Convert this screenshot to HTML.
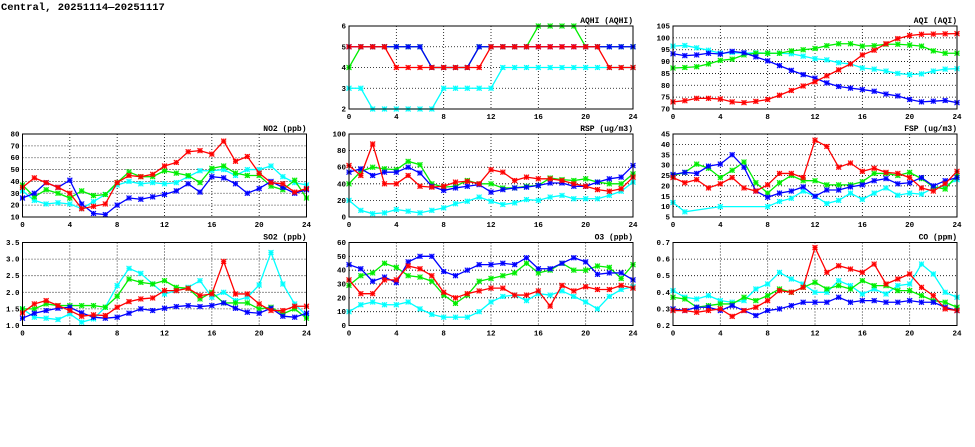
<!DOCTYPE html>
<html><head><meta charset="utf-8"><style>
body{margin:0;background:#fff;width:975px;height:447px;overflow:hidden}
svg{display:block}
text{font-family:"Liberation Mono","DejaVu Sans Mono",monospace;font-weight:bold;fill:#000}
</style></head><body>
<svg id="s" width="975" height="447" xmlns="http://www.w3.org/2000/svg">
<text x="1" y="10" style="font-size:10.5px">Central, 20251114—20251117</text>
</svg>
<script>
const C={r:'#ff0000',g:'#00ee00',b:'#0000ff',c:'#00ffff'};
const panels=[
{t:'AQHI (AQHI)',x:349,y:26,min:2,max:6,ticks:[2,3,4,5,6],dec:0,s:{
c:[3,3,2,2,2,2,2,2,3,3,3,3,3,4,4,4,4,4,4,4,4,4,4,4,4],
g:[4,5,5,5,5,5,5,4,4,4,4,5,5,5,5,5,6,6,6,6,5,5,5,5,5],
b:[5,5,5,5,5,5,5,4,4,4,4,5,5,5,5,5,5,5,5,5,5,5,5,5,5],
r:[5,5,5,5,4,4,4,4,4,4,4,4,5,5,5,5,5,5,5,5,5,5,4,4,4]}},
{t:'AQI (AQI)',x:673,y:26,min:70,max:105,ticks:[70,75,80,85,90,95,100,105],dec:0,s:{
c:[96.5,96.8,95.8,94.8,93.5,93.8,93.5,93.7,93.5,93.5,93.3,92.3,91.2,90.7,89.5,89,87.3,86.8,86,85,84.5,84.8,86,86.8,87],
g:[87.3,87.5,87.8,89,90.5,91,92.8,93.5,93.5,93.5,94.5,95,95.5,96.7,97.5,97.5,96.5,96.7,97.3,97.3,97,96.5,94.5,93.5,93.5],
b:[93.3,92.5,92.8,93.5,93.2,94.3,93.7,92,90.3,88.3,86.3,84.5,83,81,79.5,78.8,78.2,77.5,76.3,75.5,74,73,73.3,73.6,72.7],
r:[73,73.5,74.5,74.5,74.2,73,72.7,73.2,74,75.8,77.8,79.7,81.5,84,86.5,89,92.8,94.8,97.5,99.7,101,101.5,101.6,101.7,101.8]}},
{t:'NO2 (ppb)',x:22.5,y:134,min:10,max:80,ticks:[10,20,30,40,50,60,70,80],dec:0,s:{
c:[32,24,21,22,21,17,23,29,37,40,38,39,38,39,44,49,49,50,45,50,50,53,44,39,37],
g:[37,27,33,30,26,32,28,29,39,48,44,44,49,47,45,39,51,53,47,45,45,36,33,41,26],
b:[26,30,39,35,41,21,13,12,20,26,25,27,29,32,38,31,44,43,38,30,34,40,35,30,33],
r:[35,43,39,35,30,17,19,21,39,45,44,46,53,56,65,66,63,74,57,61,47,39,38,31,34]}},
{t:'RSP (ug/m3)',x:349,y:134,min:0,max:100,ticks:[0,20,40,60,80,100],dec:0,s:{
c:[20,8,4,5,9,7,5,8,11,16,19,24,19,15,17,21,20,24,26,22,22,22,26,31,42],
g:[40,55,60,58,57,67,63,40,36,37,44,40,40,35,35,37,38,47,45,44,46,42,40,40,52],
b:[54,58,50,54,54,60,53,37,32,35,37,39,30,33,35,36,38,41,41,37,37,42,46,48,62],
r:[62,50,88,40,40,50,37,36,37,42,43,40,57,54,44,48,46,46,44,40,37,33,31,34,48]}},
{t:'FSP (ug/m3)',x:673,y:134,min:5,max:45,ticks:[5,10,15,20,25,30,35,40,45],dec:0,s:{
c:[12,7.5,null,null,10,null,null,null,10,12.5,14,17.5,15,11.5,13,16.5,13.5,16.5,19,15.5,16.5,16,19,20,23],
g:[25,26.5,30.5,28.5,24,27.5,31.5,21.5,16.5,21.5,25,22.5,22.5,20.5,20.5,20.5,22,26,26,25,26.5,23.5,19.5,18.5,25],
b:[25.5,26.5,26,29.5,30.5,35,29,17.5,14.5,16.5,17.5,19.5,15,18,18,19.5,20.5,22.5,23.5,21,21.5,24,20,22.5,24],
r:[24,21.5,23,19,21,24,19,17.5,20.5,26,26,24,42,39,29,31,27,28.5,26.5,26,24,19,17.5,21,27]}},
{t:'SO2 (ppb)',x:22.5,y:242.5,min:1,max:3.5,ticks:[1,1.5,2,2.5,3,3.5],dec:1,s:{
c:[1.5,1.25,1.22,1.18,1.35,1.1,1.2,1.55,2.2,2.72,2.57,2.25,1.95,2.05,2.15,2.35,1.85,2.0,1.75,1.85,2.22,3.2,2.25,1.65,1.3],
g:[1.5,1.5,1.65,1.6,1.6,1.6,1.6,1.55,1.88,2.4,2.3,2.25,2.35,2.15,2.12,1.8,2.0,1.68,1.68,1.68,1.5,1.55,1.35,1.5,1.22],
b:[1.22,1.37,1.45,1.52,1.55,1.38,1.25,1.22,1.25,1.37,1.5,1.45,1.52,1.57,1.6,1.57,1.6,1.68,1.52,1.4,1.37,1.52,1.28,1.25,1.37],
r:[1.38,1.65,1.75,1.6,1.45,1.28,1.32,1.3,1.55,1.72,1.8,1.83,2.05,2.05,2.12,1.9,1.95,2.93,1.95,1.95,1.65,1.45,1.45,1.58,1.58]}},
{t:'O3 (ppb)',x:349,y:242.5,min:0,max:60,ticks:[0,10,20,30,40,50,60],dec:0,s:{
c:[10,15,17,15,15,17,12,8,6,6,6,10,17,21,22,18,23,22,25,21,17,12,21,26,28],
g:[29,36,38,45,42,36,35,32,22,16,22,32,34,36,38,45,38,40,45,40,40,43,42,34,44],
b:[44,41,32,35,31,46,50,50,39,36,40,44,44,45,44,49,41,41,45,49,46,37,38,38,33],
r:[33,23,23,33,33,43,41,36,24,20,23,25,27,27,22,22,25,14,29,25,28,26,26,29,27]}},
{t:'CO (ppm)',x:673,y:242.5,min:0.2,max:0.7,ticks:[0.2,0.3,0.4,0.5,0.6,0.7],dec:1,s:{
c:[.41,.37,.36,.38,.35,.34,.35,.42,.45,.52,.48,.45,.40,.40,.47,.44,.39,.42,.39,.44,.45,.57,.51,.40,.37],
g:[.37,.36,.31,.32,.33,.33,.37,.35,.38,.42,.40,.43,.46,.42,.44,.42,.47,.44,.44,.41,.41,.38,.35,.34,.31],
b:[.30,.29,.31,.31,.29,.32,.29,.26,.29,.30,.32,.34,.34,.34,.37,.34,.35,.35,.34,.34,.35,.34,.34,.31,.29],
r:[.29,.29,.28,.29,.30,.255,.29,.31,.35,.41,.40,.43,.67,.52,.56,.54,.52,.57,.45,.48,.51,.43,.38,.30,.29]}}
];
const W=284,H=83;let o='';
for(const p of panels){
 const X=h=>p.x+h/24*W, Y=v=>p.y+H-(v-p.min)/(p.max-p.min)*H;
 for(let h=4;h<24;h+=4)o+=`<line x1="${X(h)}" x2="${X(h)}" y1="${p.y}" y2="${p.y+H}" stroke="#000" stroke-width="0.8" stroke-dasharray="1,2"/>`;
 for(const t of p.ticks){const y=Y(t);
  if(t>p.min&&t<p.max)o+=`<line x1="${p.x}" x2="${p.x+W}" y1="${y}" y2="${y}" stroke="#000" stroke-width="0.8" stroke-dasharray="1,2"/>`;
  o+=`<text x="${p.x-3}" y="${y+2.5}" text-anchor="end" style="font-size:7.5px">${t.toFixed(p.dec)}</text>`;}
 for(let h=0;h<=24;h+=4)o+=`<text x="${X(h)}" y="${p.y+H+10}" text-anchor="middle" style="font-size:7.5px">${h}</text>`;
 o+=`<text x="${p.x+W}" y="${p.y-3}" text-anchor="end" style="font-size:8px">${p.t}</text>`;
 for(const k of ['c','g','b','r']){
  const d=p.s[k];const pts=[];d.forEach((v,i)=>{if(v!=null)pts.push([X(i),Y(v)])});
  o+=`<polyline fill="none" stroke="${C[k]}" stroke-width="1.3" points="${pts.map(q=>q.join(',')).join(' ')}"/>`;
  for(const [x,y] of pts){const s=2.5;
   o+=`<rect x="${x-s}" y="${y-s}" width="${2*s}" height="${2*s}" fill="${C[k]}" opacity="0.35"/><path d="M${x-s},${y-s}L${x+s},${y+s}M${x-s},${y+s}L${x+s},${y-s}M${x},${y-s}V${y+s}M${x-s},${y}H${x+s}" stroke="${C[k]}" stroke-width="1"/>`;}
 }
 o+=`<rect x="${p.x}" y="${p.y}" width="${W}" height="${H}" fill="none" stroke="#000" stroke-width="1"/>`;
}
document.getElementById('s').insertAdjacentHTML('beforeend',o);
</script>
</body></html>
